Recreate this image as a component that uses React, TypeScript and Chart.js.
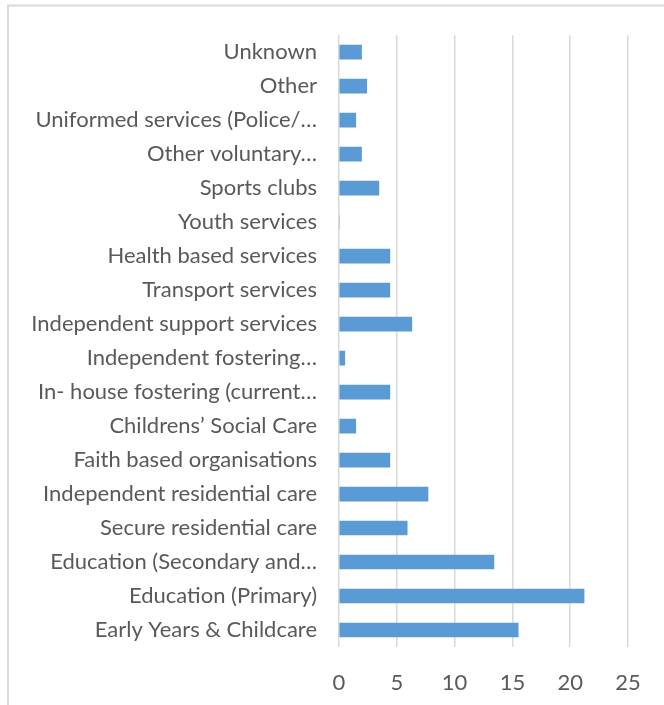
import React, { useEffect, useRef } from "react";
import { Chart, registerables } from "chart.js";

Chart.register(...registerables);

const categories = [
  "Unknown",
  "Other",
  "Uniformed services (Police/…",
  "Other voluntary…",
  "Sports clubs",
  "Youth services",
  "Health based services",
  "Transport services",
  "Independent support services",
  "Independent fostering…",
  "In- house fostering (current…",
  "Childrens’ Social Care",
  "Faith based organisations",
  "Independent residential care",
  "Secure residential care",
  "Education (Secondary and…",
  "Education (Primary)",
  "Early Years & Childcare",
];

const values = [
  1.95, 2.4, 1.45, 1.95, 3.45, 0, 4.4, 4.4, 6.3, 0.5, 4.4, 1.45, 4.4, 7.7, 5.9,
  13.4, 21.2, 15.5,
];

const xTicks = [0, 5, 10, 15, 20, 25];

const FONT = "Lato, 'Open Sans', sans-serif";

const framePlugin = {
  id: "frame",
  beforeDraw(chart: any) {
    const ctx = chart.ctx;
    ctx.save();
    ctx.fillStyle = "#ffffff";
    ctx.fillRect(0, 0, chart.width, chart.height);
    ctx.strokeStyle = "#d9d9d9";
    ctx.lineWidth = 2;
    ctx.beginPath();
    ctx.moveTo(8, chart.height);
    ctx.lineTo(8, 5.5);
    ctx.lineTo(chart.width, 5.5);
    ctx.stroke();
    ctx.restore();
  },
};

export default function App() {
  const ref = useRef<HTMLCanvasElement | null>(null);

  useEffect(() => {
    if (!ref.current) return;
    const chart = new Chart(ref.current, {
      type: "bar",
      data: {
        labels: categories,
        datasets: [
          {
            data: values,
            backgroundColor: "#5b9bd5",
            borderWidth: 0,
            barThickness: 14,
          },
        ],
      },
      options: {
        indexAxis: "y",
        animation: false,
        responsive: false,
        maintainAspectRatio: false,
        layout: { padding: { left: 0, right: 36, top: 34, bottom: 0 } },
        plugins: {
          legend: { display: false },
          tooltip: { enabled: false },
        },
        scales: {
          x: {
            min: 0,
            max: 25,
            afterBuildTicks: (scale: any) => {
              scale.ticks = xTicks.map((v) => ({ value: v }));
            },
            afterFit: (scale: any) => {
              scale.height = 58;
            },
            grid: {
              color: "#d9d9d9",
              lineWidth: 1.5,
              drawTicks: false,
            },
            border: { display: false },
            ticks: {
              padding: 23,
              color: "#595959",
              font: { family: FONT, size: 22 },
            },
          },
          y: {
            afterFit: (scale: any) => {
              scale.width = 339;
            },
            grid: { display: false, drawTicks: false },
            border: { display: false },
            ticks: {
              padding: 22,
              color: "#595959",
              autoSkip: false,
              font: { family: FONT, size: 22 },
            },
          },
        },
      },
      plugins: [framePlugin],
    });
    return () => chart.destroy();
  }, []);

  return (
    <div style={{ position: "fixed", left: 0, top: 0, width: 664, height: 705 }}>
      <canvas ref={ref} width={664} height={705} style={{ display: "block" }} />
    </div>
  );
}
